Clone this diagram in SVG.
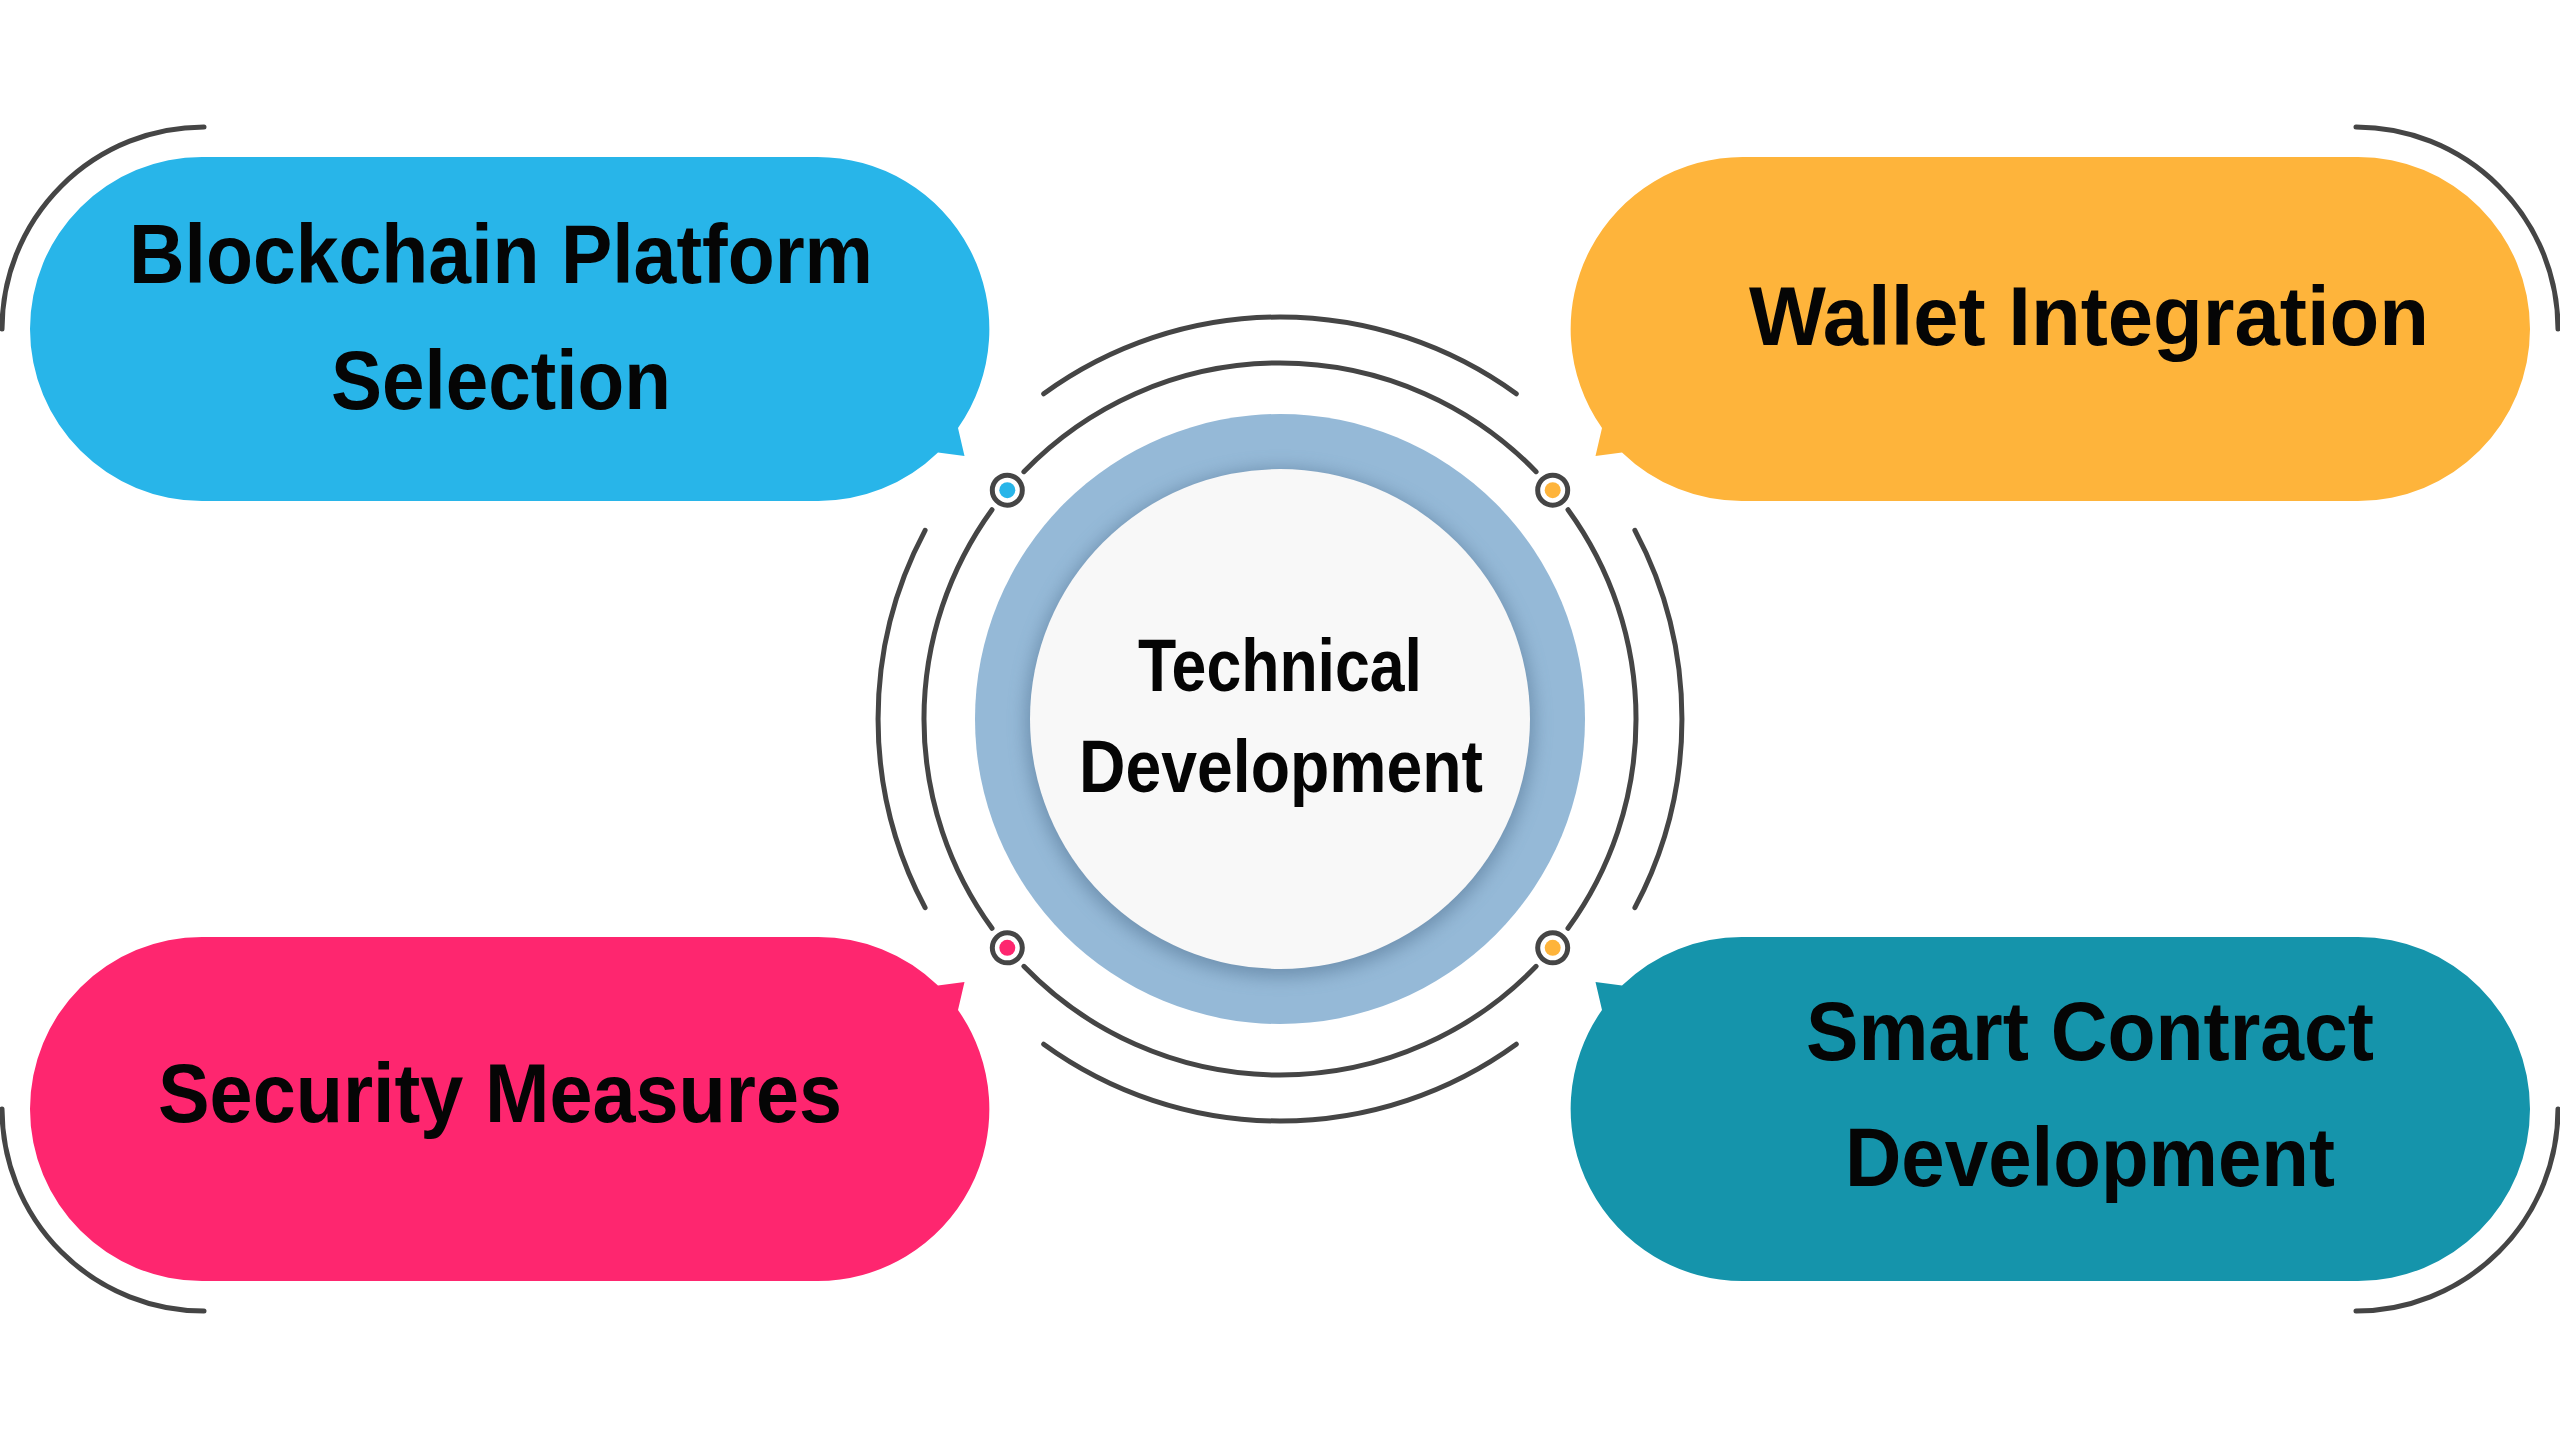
<svg xmlns="http://www.w3.org/2000/svg" width="2560" height="1440" viewBox="0 0 2560 1440">
  <style>
    .arc { fill: none; stroke: #454545; stroke-width: 5; stroke-linecap: round; }
    .lbl { font-family: "Liberation Sans", Arial, sans-serif; font-weight: 700; fill: #050505; text-anchor: middle; }
    .big { font-size: 84px; }
    .mid { font-size: 74px; }
    .dotring { fill: #ffffff; stroke: #454545; stroke-width: 5; }
  </style>
  <defs>
    <path id="pill" d="M 202 157 L 816 157 A 172 172 0 0 1 958 428 L 964.5 456 L 938 452.5 A 172 172 0 0 1 816 501 L 202 501 A 172 172 0 0 1 202 157 Z"/>
    <path id="deco" d="M 204 127 A 202 202 0 0 0 2 329"/>
    <filter id="shadow" x="-20%" y="-20%" width="140%" height="140%">
      <feGaussianBlur stdDeviation="9"/>
    </filter>
  </defs>
  <rect width="2560" height="1440" fill="#ffffff"/>

  <g id="node-blockchain">
    <use href="#pill" fill="#28B5E9"/>
    <use href="#deco" class="arc"/>
    <text class="lbl big" x="501" y="283" textLength="744" lengthAdjust="spacingAndGlyphs">Blockchain Platform</text>
    <text class="lbl big" x="501" y="409" textLength="340" lengthAdjust="spacingAndGlyphs">Selection</text>
  </g>

  <g id="node-wallet">
    <use href="#pill" fill="#FEB43B" transform="translate(2560,0) scale(-1,1)"/>
    <use href="#deco" class="arc" transform="translate(2560,0) scale(-1,1)"/>
    <text class="lbl big" x="2089" y="345" textLength="680" lengthAdjust="spacingAndGlyphs">Wallet Integration</text>
  </g>

  <g id="node-security">
    <use href="#pill" fill="#FE266F" transform="translate(0,1438) scale(1,-1)"/>
    <use href="#deco" class="arc" transform="translate(0,1438) scale(1,-1)"/>
    <text class="lbl big" x="500" y="1122" textLength="684" lengthAdjust="spacingAndGlyphs">Security Measures</text>
  </g>

  <g id="node-smart-contract">
    <use href="#pill" fill="#1594AB" transform="translate(2560,1438) scale(-1,-1)"/>
    <use href="#deco" class="arc" transform="translate(2560,1438) scale(-1,-1)"/>
    <text class="lbl big" x="2090" y="1060" textLength="568" lengthAdjust="spacingAndGlyphs">Smart Contract</text>
    <text class="lbl big" x="2090" y="1186" textLength="490" lengthAdjust="spacingAndGlyphs">Development</text>
  </g>

  <g id="connectors">
    <path class="arc" d="M 1023.9 471.7 A 356 356 0 0 1 1536.1 471.7"/>
    <path class="arc" d="M 1023.9 966.3 A 356 356 0 0 0 1536.1 966.3"/>
    <path class="arc" d="M 992 509.7 A 356 356 0 0 0 992 928.3"/>
    <path class="arc" d="M 1568 509.7 A 356 356 0 0 1 1568 928.3"/>
    <path class="arc" d="M 1043.7 393.8 A 402 402 0 0 1 1516.3 393.8"/>
    <path class="arc" d="M 1043.7 1044.2 A 402 402 0 0 0 1516.3 1044.2"/>
    <path class="arc" d="M 925.1 530.3 A 402 402 0 0 0 925.1 907.7"/>
    <path class="arc" d="M 1634.9 530.3 A 402 402 0 0 1 1634.9 907.7"/>
    <circle class="dotring" cx="1007.3" cy="490.2" r="15"/>
    <circle cx="1007.3" cy="490.2" r="8" fill="#28B5E9"/>
    <circle class="dotring" cx="1552.7" cy="490.2" r="15"/>
    <circle cx="1552.7" cy="490.2" r="8" fill="#FEB43B"/>
    <circle class="dotring" cx="1007.3" cy="947.8" r="15"/>
    <circle cx="1007.3" cy="947.8" r="8" fill="#FE266F"/>
    <circle class="dotring" cx="1552.7" cy="947.8" r="15"/>
    <circle cx="1552.7" cy="947.8" r="8" fill="#FEB43B"/>
  </g>

  <g id="node-center">
    <circle cx="1280" cy="719" r="305" fill="#95B9D7"/>
    <circle cx="1280" cy="723" r="254" fill="#4F6F8F" opacity="0.55" filter="url(#shadow)"/>
    <circle cx="1280" cy="719" r="250" fill="#F8F8F8"/>
    <text class="lbl mid" x="1280" y="691" textLength="284" lengthAdjust="spacingAndGlyphs">Technical</text>
    <text class="lbl mid" x="1281" y="792" textLength="404" lengthAdjust="spacingAndGlyphs">Development</text>
  </g>
</svg>
